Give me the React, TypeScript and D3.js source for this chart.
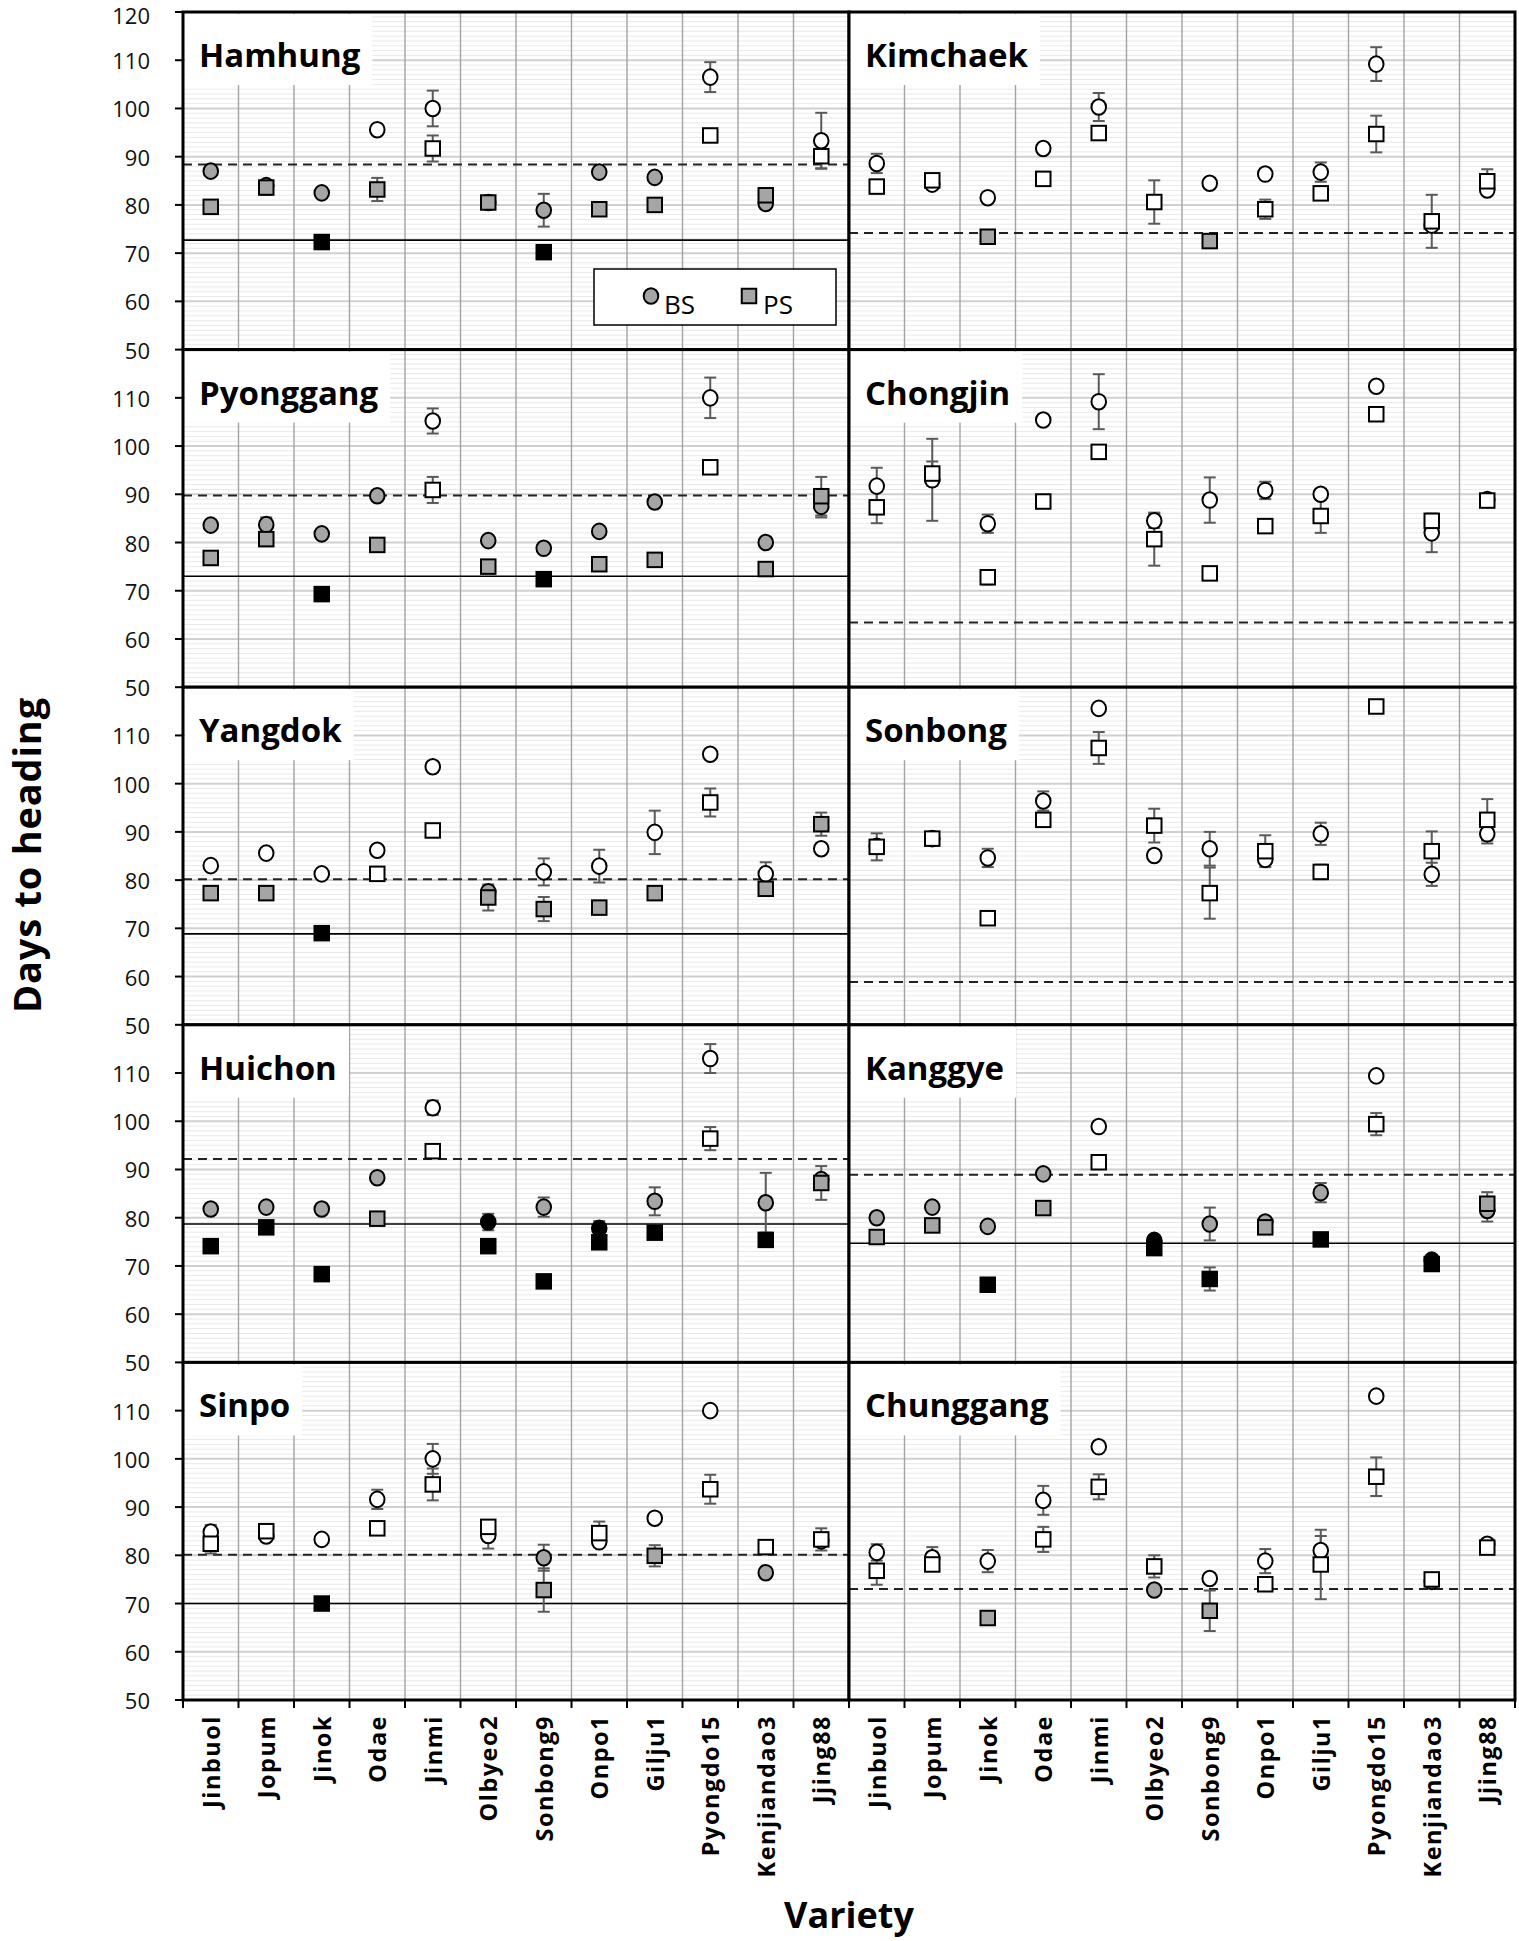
import React from 'react';
import * as d3 from 'd3';

const varieties = ['Jinbuol', 'Jopum', 'Jinok', 'Odae', 'Jinmi', 'Olbyeo2', 'Sonbong9', 'Onpo1', 'Gilju1', 'Pyongdo15', 'Kenjiandao3', 'Jjing88'];
const sites = ['Hamhung', 'Kimchaek', 'Pyonggang', 'Chongjin', 'Yangdok', 'Sonbong', 'Huichon', 'Kanggye', 'Sinpo', 'Chunggang'];
const yTicks = [50, 60, 70, 80, 90, 100, 110, 120];

// dashed (BS reference) and solid (PS reference) lines per site
const dashedRef = [88.4, 74.2, 89.75, 63.4, 80.2, 58.9, 92.2, 88.9, 80.1, 73.0];
const solidRef = [72.7, null, 73.0, null, 68.85, null, 78.7, 74.7, 70.0, null];

// fill codes: w = white, g = gray, k = black
const hamhungBS = [87.0, 84.0, 82.5, 95.6, 100.0, 80.5, 78.9, 86.8, 85.7, 106.5, 80.3, 93.3];
const hamhungBSErr = [0, 0, 0, 0, 3.7, 0, 3.4, 0, 0, 3.1, 1.0, 5.8];
const hamhungBSFill = ['g', 'g', 'g', 'w', 'w', 'g', 'g', 'g', 'g', 'w', 'g', 'w'];
const hamhungPS = [79.6, 83.6, 72.3, 83.2, 91.7, 80.5, 70.2, 79.1, 80.0, 94.4, 82.0, 90.1];
const hamhungPSErr = [0, 1.5, 1.0, 2.4, 2.7, 0, 0, 0, 0, 0, 0, 2.5];
const hamhungPSFill = ['g', 'g', 'k', 'g', 'w', 'g', 'k', 'g', 'g', 'w', 'g', 'w'];

const kimchaekBS = [88.6, 84.3, 81.5, 91.7, 100.3, null, 84.5, 86.4, 86.8, 109.2, 75.8, 83.1];
const kimchaekBSErr = [2.0, 0, 0, 0, 2.9, 0, 0, 0, 2.0, 3.5, 0, 0];
const kimchaekBSFill = ['w', 'w', 'w', 'w', 'w', 'w', 'w', 'w', 'w', 'w', 'w', 'w'];
const kimchaekPS = [83.8, 85.1, 73.4, 85.4, 94.9, 80.6, 72.5, 79.1, 82.4, 94.7, 76.6, 84.9];
const kimchaekPSErr = [0, 0, 0, 0, 0, 4.5, 0, 2.0, 0, 3.8, 5.5, 2.5];
const kimchaekPSFill = ['w', 'w', 'g', 'w', 'w', 'w', 'g', 'w', 'w', 'w', 'w', 'w'];

const pyonggangBS = [83.6, 83.7, 81.8, 89.7, 105.2, 80.4, 78.8, 82.3, 88.4, 110.0, 80.0, 87.5];
const pyonggangBSErr = [0, 1.5, 0, 0, 2.6, 0, 0, 0, 0, 4.2, 0, 2.3];
const pyonggangBSFill = ['g', 'g', 'g', 'g', 'w', 'g', 'g', 'g', 'g', 'w', 'g', 'g'];
const pyonggangPS = [76.8, 80.7, 69.3, 79.5, 90.9, 75.0, 72.4, 75.5, 76.4, 95.6, 74.5, 89.6];
const pyonggangPSErr = [0, 0, 0, 0, 2.7, 0, 1.0, 0, 0, 0, 0, 4.0];
const pyonggangPSFill = ['g', 'g', 'k', 'g', 'w', 'g', 'k', 'g', 'g', 'w', 'g', 'g'];

const chongjinBS = [91.7, 93.0, 83.9, 105.4, 109.2, 84.5, 88.8, 90.8, 90.0, 112.4, 82.0, 88.9];
const chongjinBSErr = [3.8, 8.5, 1.9, 0, 5.7, 1.5, 4.7, 1.8, 0, 0, 4.0, 0];
const chongjinBSFill = ['w', 'w', 'w', 'w', 'w', 'w', 'w', 'w', 'w', 'w', 'w', 'w'];
const chongjinPS = [87.3, 94.3, 72.8, 88.5, 98.8, 80.7, 73.6, 83.4, 85.5, 106.6, 84.5, 88.7];
const chongjinPSErr = [3.3, 2.5, 1.5, 0, 0, 5.5, 0, 0, 3.5, 0, 1.0, 1.0];
const chongjinPSFill = ['w', 'w', 'w', 'w', 'w', 'w', 'w', 'w', 'w', 'w', 'w', 'w'];

const yangdokBS = [83.0, 85.6, 81.3, 86.2, 103.5, 77.6, 81.7, 82.9, 89.9, 106.1, 81.3, 86.5];
const yangdokBSErr = [0, 0, 0, 0, 0, 0, 2.8, 3.4, 4.5, 0, 2.4, 0];
const yangdokBSFill = ['w', 'w', 'w', 'w', 'w', 'g', 'w', 'w', 'w', 'w', 'w', 'w'];
const yangdokPS = [77.3, 77.3, 69.0, 81.3, 90.3, 76.4, 74.0, 74.3, 77.3, 96.1, 78.2, 91.6];
const yangdokPSErr = [0, 0, 0, 0, 0, 2.7, 2.5, 0, 0, 2.9, 0, 2.4];
const yangdokPSFill = ['g', 'g', 'k', 'w', 'w', 'g', 'g', 'g', 'g', 'w', 'g', 'g'];

const sonbongBS = [87.0, 88.6, 84.6, 96.4, 115.6, 85.1, 86.5, 84.3, 89.6, null, 81.2, 89.6];
const sonbongBSErr = [0, 0, 1.9, 2.0, 0, 0, 3.5, 1.0, 2.3, 0, 2.4, 2.0];
const sonbongBSFill = ['w', 'w', 'w', 'w', 'w', 'w', 'w', 'w', 'w', 'w', 'w', 'w'];
const sonbongPS = [86.9, 88.6, 72.1, 92.5, 107.4, 91.3, 77.3, 86.0, 81.7, 116.0, 86.0, 92.5];
const sonbongPSErr = [2.8, 0, 0, 0, 3.3, 3.5, 5.3, 3.3, 1.5, 0, 4.1, 4.3];
const sonbongPSFill = ['w', 'w', 'w', 'w', 'w', 'w', 'w', 'w', 'w', 'w', 'w', 'w'];

const huichonBS = [81.8, 82.2, 81.8, 88.3, 102.8, 79.1, 82.2, 77.8, 83.4, 113.0, 83.1, 87.9];
const huichonBSErr = [0, 0, 0, 0, 1.5, 1.7, 2.0, 1.5, 2.9, 3.0, 6.2, 0];
const huichonBSFill = ['g', 'g', 'g', 'g', 'w', 'k', 'g', 'k', 'g', 'w', 'g', 'g'];
const huichonPS = [74.1, 78.0, 68.3, 79.8, 93.8, 74.1, 66.8, 74.9, 76.9, 96.4, 75.4, 87.2];
const huichonPSErr = [0, 0, 0, 0, 0, 0, 0, 0, 0, 2.4, 0, 3.5];
const huichonPSFill = ['k', 'k', 'k', 'g', 'w', 'k', 'k', 'k', 'k', 'w', 'k', 'g'];

const kanggyeBS = [80.0, 82.2, 78.2, 89.1, 98.9, 75.3, 78.7, 79.1, 85.2, 109.4, 71.2, 81.5];
const kanggyeBSErr = [0, 0, 0, 0, 0, 0, 3.4, 0, 2.0, 0, 0, 2.3];
const kanggyeBSFill = ['g', 'g', 'g', 'g', 'w', 'k', 'g', 'g', 'g', 'w', 'k', 'g'];
const kanggyePS = [76.0, 78.4, 66.1, 82.0, 91.5, 73.7, 67.3, 78.0, 75.5, 99.4, 70.4, 82.9];
const kanggyePSErr = [0, 0, 0, 0, 0, 0, 2.4, 0, 0, 2.3, 0, 2.4];
const kanggyePSFill = ['g', 'g', 'k', 'g', 'w', 'k', 'k', 'g', 'k', 'w', 'k', 'g'];

const sinpoBS = [84.8, 84.0, 83.3, 91.6, 100.0, 84.1, 79.5, 82.8, 87.7, 110.0, 76.4, 83.0];
const sinpoBSErr = [1.5, 0, 0, 2.0, 3.1, 2.7, 2.7, 0, 0, 0, 0, 0];
const sinpoBSFill = ['w', 'w', 'w', 'w', 'w', 'w', 'g', 'w', 'w', 'w', 'g', 'w'];
const sinpoPS = [82.4, 85.0, 70.0, 85.6, 94.7, 85.9, 72.8, 84.6, 79.9, 93.7, 81.7, 83.3];
const sinpoPSErr = [2.0, 1.0, 0, 0, 3.3, 0, 4.5, 2.4, 2.2, 3.0, 0, 2.3];
const sinpoPSFill = ['w', 'w', 'k', 'w', 'w', 'w', 'g', 'w', 'g', 'w', 'w', 'w'];

const chunggangBS = [80.6, 79.5, 78.8, 91.4, 102.5, 72.8, 75.2, 78.8, 81.0, 113.0, 74.6, 82.3];
const chunggangBSErr = [1.7, 2.2, 2.3, 3.0, 0, 0, 0, 2.5, 3.0, 0, 0, 0];
const chunggangBSFill = ['w', 'w', 'w', 'w', 'w', 'g', 'w', 'w', 'w', 'w', 'g', 'w'];
const chunggangPS = [76.8, 78.1, 67.0, 83.3, 94.2, 77.7, 68.5, 74.0, 78.1, 96.3, 75.0, 81.6];
const chunggangPSErr = [2.9, 0, 0, 2.6, 2.6, 2.3, 4.2, 0, 7.2, 4.0, 0, 0];
const chunggangPSFill = ['w', 'w', 'g', 'w', 'w', 'w', 'g', 'w', 'w', 'w', 'w', 'w'];

const bsSeries = [hamhungBS, kimchaekBS, pyonggangBS, chongjinBS, yangdokBS, sonbongBS, huichonBS, kanggyeBS, sinpoBS, chunggangBS];
const bsErrs = [hamhungBSErr, kimchaekBSErr, pyonggangBSErr, chongjinBSErr, yangdokBSErr, sonbongBSErr, huichonBSErr, kanggyeBSErr, sinpoBSErr, chunggangBSErr];
const bsFills = [hamhungBSFill, kimchaekBSFill, pyonggangBSFill, chongjinBSFill, yangdokBSFill, sonbongBSFill, huichonBSFill, kanggyeBSFill, sinpoBSFill, chunggangBSFill];
const psSeries = [hamhungPS, kimchaekPS, pyonggangPS, chongjinPS, yangdokPS, sonbongPS, huichonPS, kanggyePS, sinpoPS, chunggangPS];
const psErrs = [hamhungPSErr, kimchaekPSErr, pyonggangPSErr, chongjinPSErr, yangdokPSErr, sonbongPSErr, huichonPSErr, kanggyePSErr, sinpoPSErr, chunggangPSErr];
const psFills = [hamhungPSFill, kimchaekPSFill, pyonggangPSFill, chongjinPSFill, yangdokPSFill, sonbongPSFill, huichonPSFill, kanggyePSFill, sinpoPSFill, chunggangPSFill];

const W = 1519;
const H = 1941;
const plotLeft = 183;
const plotRight = 1515;
const plotTop = 12;
const plotBottom = 1700;
const panelW = (plotRight - plotLeft) / 2;
const rowH = (plotBottom - plotTop) / 5;
const FONT = "'Open Sans', 'DejaVu Sans', sans-serif";
const fillColor: Record<string, string> = { w: '#ffffff', g: '#a5a5a5', k: '#000000' };

function measure(text: string, font: string): number {
  const c = document.createElement('canvas').getContext('2d');
  if (!c) return text.length * 20;
  c.font = font;
  return c.measureText(text).width;
}

function Panel({ idx }: { idx: number }) {
  const col = idx % 2;
  const row = Math.floor(idx / 2);
  const left = plotLeft + col * panelW;
  const top = plotTop + row * rowH;
  const bottom = top + rowH;
  const x = d3.scaleBand<string>().domain(varieties).range([left, left + panelW]).padding(0);
  const y = d3.scaleLinear().domain([50, 120]).range([bottom, top]);
  const minor = d3.range(51, 120, 1).filter((v) => v % 10 !== 0);
  const major = d3.range(60, 120, 10);
  const bw = x.bandwidth();
  const labelFont = `bold 33px ${FONT}`;
  const lw = measure(sites[idx], labelFont);
  const bs = bsSeries[idx];
  const ps = psSeries[idx];
  const r = 7.3;
  const sq = 14.5;
  const errColor = '#5a5a5a';
  const cap = 6;

  const errBars = (vals: (number | null)[], errs: number[], key: string) =>
    vals.map((v, i) => {
      if (v == null || !errs[i]) return null;
      const cx = (x(varieties[i]) as number) + bw / 2;
      const y1 = y(v + errs[i]);
      const y2 = y(v - errs[i]);
      return (
        <g key={key + i} stroke={errColor} strokeWidth={2}>
          <line x1={cx} x2={cx} y1={y1} y2={y2} />
          <line x1={cx - cap} x2={cx + cap} y1={y1} y2={y1} />
          <line x1={cx - cap} x2={cx + cap} y1={y2} y2={y2} />
        </g>
      );
    });

  return (
    <g>
      <rect x={left} y={top} width={panelW} height={rowH} fill="#fff" />
      {minor.map((v) => (
        <line key={'mi' + v} x1={left} x2={left + panelW} y1={y(v)} y2={y(v)} stroke="#e9e9e9" strokeWidth={1} />
      ))}
      {major.map((v) => (
        <line key={'ma' + v} x1={left} x2={left + panelW} y1={y(v)} y2={y(v)} stroke="#d0d0d0" strokeWidth={2} />
      ))}
      {varieties.slice(1).map((v) => (
        <line key={'vg' + v} x1={x(v)} x2={x(v)} y1={top} y2={bottom} stroke="#a3a3a3" strokeWidth={1.4} />
      ))}
      <rect x={left + 2} y={top + 2} width={lw + 26} height={71} fill="#fff" />
      <text x={left + 16} y={top + 55} fontFamily={FONT} fontWeight={700} fontSize={33} fill="#000">
        {sites[idx]}
      </text>
      <line x1={left} x2={left + panelW} y1={y(dashedRef[idx])} y2={y(dashedRef[idx])} stroke="#222" strokeWidth={2} strokeDasharray="9,6" />
      {solidRef[idx] != null && (
        <line x1={left} x2={left + panelW} y1={y(solidRef[idx] as number)} y2={y(solidRef[idx] as number)} stroke="#000" strokeWidth={1.6} />
      )}
      {errBars(bs, bsErrs[idx], 'eb')}
      {errBars(ps, psErrs[idx], 'ep')}
      {bs.map((v, i) =>
        v == null ? null : (
          <ellipse key={'b' + i} cx={(x(varieties[i]) as number) + bw / 2} cy={y(v)} rx={r} ry={r + 0.5}
            fill={fillColor[bsFills[idx][i]]} stroke="#000" strokeWidth={2} />
        )
      )}
      {ps.map((v, i) =>
        v == null ? null : (
          <rect key={'p' + i} x={(x(varieties[i]) as number) + bw / 2 - sq / 2} y={y(v) - sq / 2} width={sq} height={sq}
            fill={fillColor[psFills[idx][i]]} stroke="#000" strokeWidth={2} />
        )
      )}
      {idx === 0 && (
        <g>
          <rect x={594} y={269} width={242} height={56} fill="#fff" stroke="#000" strokeWidth={1.5} />
          <ellipse cx={651} cy={296} rx={r} ry={r + 0.5} fill={fillColor.g} stroke="#000" strokeWidth={2} />
          <text x={664} y={314} fontFamily={FONT} fontSize={26} fill="#000">BS</text>
          <rect x={749 - sq / 2} y={296 - sq / 2} width={sq} height={sq} fill={fillColor.g} stroke="#000" strokeWidth={2} />
          <text x={763} y={314} fontFamily={FONT} fontSize={26} fill="#000">PS</text>
        </g>
      )}
      {row === 4 &&
        varieties.concat(['__end']).map((v, i) => {
          const xx = v === '__end' ? left + panelW : (x(v) as number);
          return <line key={'bt' + i} x1={xx} x2={xx} y1={bottom} y2={bottom + 8} stroke="#000" strokeWidth={2} />;
        })}
      {row === 4 &&
        varieties.map((v) => (
          <text key={'cl' + v}
            transform={`translate(${(x(v) as number) + bw / 2},${bottom + 15}) rotate(-90)`}
            textAnchor="end" dominantBaseline="central" fontFamily={FONT} fontWeight={700} fontSize={23.5}
            letterSpacing={1.5} fill="#000">
            {v}
          </text>
        ))}
      <rect x={left} y={top} width={panelW} height={rowH} fill="none" stroke="#000" strokeWidth={3} />
    </g>
  );
}

export default function App() {
  const rows = d3.range(5);
  return (
    <svg width={W} height={H} viewBox={`0 0 ${W} ${H}`} style={{ position: 'absolute', left: 0, top: 0, display: 'block', background: '#fff' }}>
      <rect x={0} y={0} width={W} height={H} fill="#fff" />
      {d3.range(10).map((i) => (
        <Panel key={i} idx={i} />
      ))}
      {rows.map((r) => {
        const top = plotTop + r * rowH;
        const y = d3.scaleLinear().domain([50, 120]).range([top + rowH, top]);
        const ticks = r === 0 ? yTicks : yTicks.filter((t) => t < 120);
        return (
          <g key={'ya' + r}>
            {ticks.map((t) => (
              <g key={t}>
                <line x1={plotLeft - 8} x2={plotLeft} y1={y(t)} y2={y(t)} stroke="#000" strokeWidth={2} />
                <text x={150} y={y(t) + (t === 120 ? 3 : 0)} textAnchor="end" dominantBaseline="central" fontFamily={FONT} fontSize={22} fill="#111">
                  {t}
                </text>
              </g>
            ))}
          </g>
        );
      })}
      <text transform={`translate(41,855) rotate(-90)`} textAnchor="middle"
        fontFamily={FONT} fontWeight={700} fontSize={38} letterSpacing={0.8} fill="#000">
        Days to heading
      </text>
      <text x={849} y={1928} textAnchor="middle" fontFamily={FONT} fontWeight={700} fontSize={36} fill="#000">
        Variety
      </text>
    </svg>
  );
}
